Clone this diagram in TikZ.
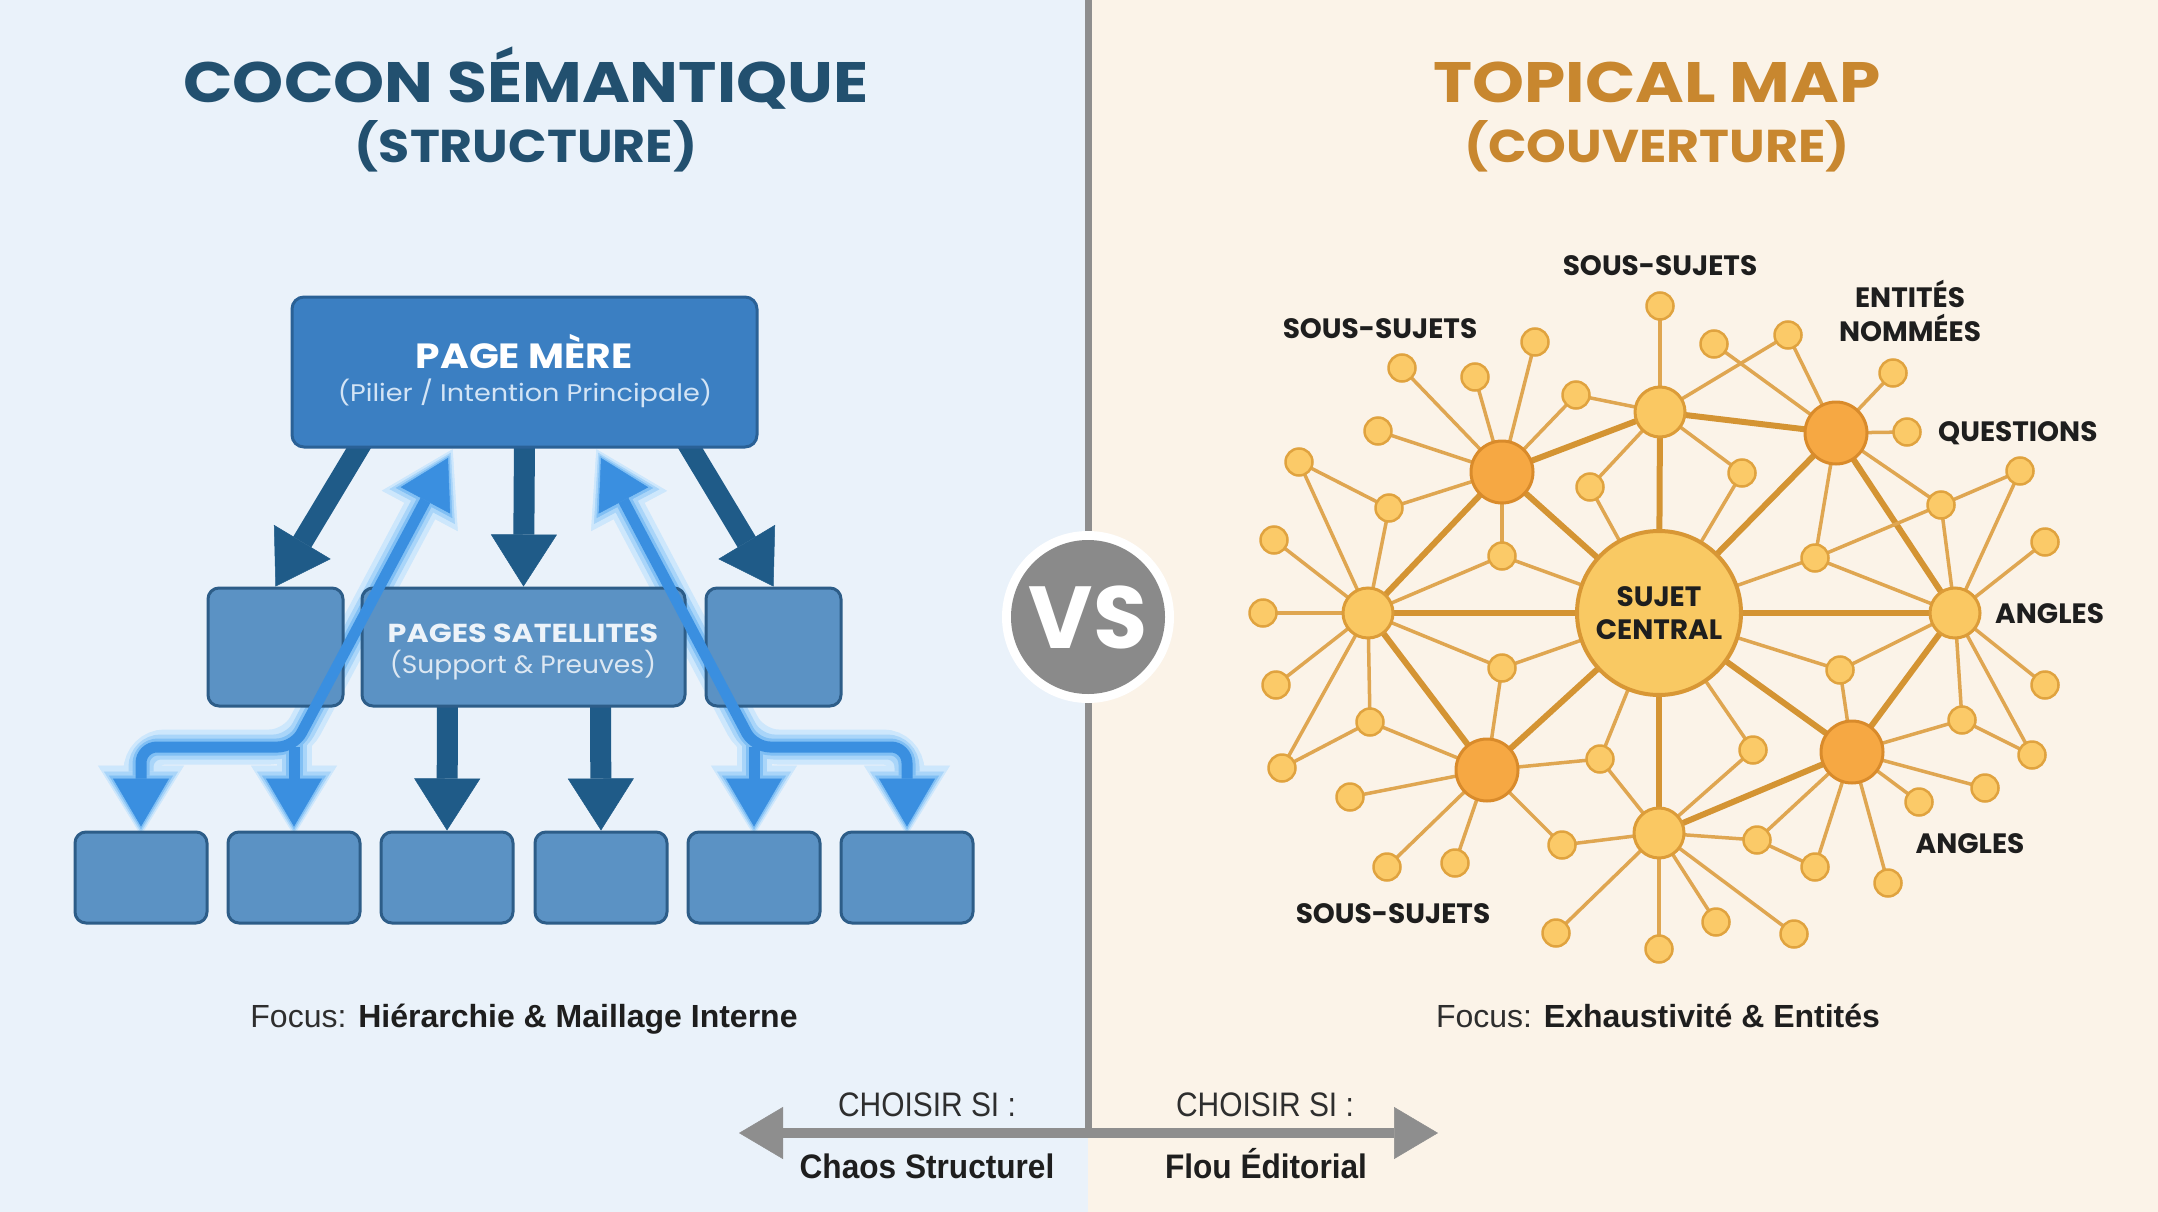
\documentclass[tikz,border=0pt]{standalone}
\usepackage{fontspec}
\setmainfont{Poppins}
\newfontfamily\lsans{Liberation Sans}
\usepackage{graphicx}
\usetikzlibrary{arrows.meta,calc}
\pgfdeclarelayer{back}
\pgfdeclarelayer{edges}
\pgfsetlayers{back,edges,main}
\definecolor{bgL}{HTML}{EAF2FA}
\definecolor{bgR}{HTML}{FBF3E8}
\definecolor{titleL}{HTML}{22506F}
\definecolor{titleR}{HTML}{C8872F}
\definecolor{pmfill}{HTML}{3B7FC2}
\definecolor{pmborder}{HTML}{2A6196}
\definecolor{boxfill}{HTML}{5B92C4}
\definecolor{boxborder}{HTML}{2D5D88}
\definecolor{darkarrow}{HTML}{1F5B88}
\definecolor{glowcore}{HTML}{3A8FE0}
\definecolor{glowA}{HTML}{CDE7FC}
\definecolor{glowB}{HTML}{A9D5F9}
\definecolor{glowC}{HTML}{80BFF4}
\definecolor{pmsub}{HTML}{D3E4F5}
\definecolor{sattxt}{HTML}{EDF3F9}
\definecolor{satsub}{HTML}{DCE7F2}
\definecolor{divgray}{HTML}{8E8E8E}
\definecolor{vsgray}{HTML}{8A8A8A}
\definecolor{edgethin}{HTML}{DFA651}
\definecolor{edgethick}{HTML}{D49433}
\definecolor{leaffill}{HTML}{FBCA68}
\definecolor{leafborder}{HTML}{E0A33F}
\definecolor{medfill}{HTML}{FAC862}
\definecolor{medborder}{HTML}{DC9C38}
\definecolor{hubfill}{HTML}{F6A843}
\definecolor{hubborder}{HTML}{D98B2B}
\definecolor{cenfill}{HTML}{F9C963}
\definecolor{cenborder}{HTML}{D89735}
\definecolor{txtdark}{HTML}{1E1E1E}
\definecolor{txtgray}{HTML}{2E2E2E}
\newcommand{\myfs}[1]{\fontsize{#1}{#1}\selectfont}
\begin{document}
\begin{tikzpicture}[x=1pt,y=-1pt,
  ttlA/.style={anchor=base,inner sep=0,font=\bfseries\myfs{57}},
  ttlB/.style={anchor=base,inner sep=0,font=\bfseries\myfs{46}},
  pmbox/.style={draw=pmborder,fill=pmfill,line width=3pt,rounded corners=12pt,minimum width=465pt,minimum height=150pt,inner sep=0},
  satbox/.style={draw=boxborder,fill=boxfill,line width=3pt,rounded corners=11pt,inner sep=0},
  darr/.style={draw=darkarrow,line width=21pt,-{Triangle[width=66pt,length=52pt,line width=0.5pt]}},
  gtip/.tip={Triangle[width=56pt,length=48pt,line width=0.5pt]},
  gtipC/.tip={Triangle[width=64pt,length=54pt,line width=0.5pt]},
  gtipB/.tip={Triangle[width=74pt,length=61pt,line width=0.5pt]},
  gtipA/.tip={Triangle[width=86pt,length=70pt,line width=0.5pt]},
  gcore/.style={draw=glowcore,line width=11pt,rounded corners=16pt,shorten >=4pt},
  ghaloC/.style={draw=glowC,line width=17pt,rounded corners=17pt,shorten >=1pt,shorten <=-3pt},
  ghaloB/.style={draw=glowB,line width=25pt,rounded corners=20pt,shorten >=-2pt,shorten <=-6pt},
  ghaloA/.style={draw=glowA,line width=35pt,rounded corners=24pt,shorten >=-5pt,shorten <=-10pt},
  leaf/.style={circle,draw=leafborder,fill=leaffill,line width=2.5pt,minimum size=27pt,inner sep=0},
  med/.style={circle,draw=medborder,fill=medfill,line width=3pt,minimum size=50pt,inner sep=0},
  hub/.style={circle,draw=hubborder,fill=hubfill,line width=3pt,minimum size=62pt,inner sep=0},
  cen/.style={circle,draw=cenborder,fill=cenfill,line width=4pt,minimum size=164pt,inner sep=0,align=center,font=\bfseries\fontsize{28}{33}\selectfont,text=txtdark},
  ethin/.style={draw=edgethin,line width=3.5pt},
  ethick/.style={draw=edgethick,line width=6pt},
  lbl/.style={anchor=base,inner sep=0,font=\bfseries\myfs{28},text=txtdark},
  foc/.style={anchor=base,inner sep=0,font=\lsans\myfs{32},text=txtgray},
  chs/.style={anchor=base,inner sep=0,font=\lsans\myfs{34},text=txtgray},
  chb/.style={anchor=base,inner sep=0,font=\lsans\bfseries\myfs{34},text=txtdark}
]
% backgrounds
\begin{pgfonlayer}{back}
\fill[bgL] (0,0) rectangle (1088,1212);
\fill[bgR] (1088,0) rectangle (2158,1212);
\end{pgfonlayer}
\useasboundingbox (0,0) rectangle (2158,1212);

% titles
\node[ttlA,text=titleL] (tL1) at (526,103) {\scalebox{1.14}[1]{COCON SÉMANTIQUE}};
\node[ttlB,text=titleL] (tL2) at (526,163) {\scalebox{1.10}[1]{(STRUCTURE)}};
\node[ttlA,text=titleR] (tR1) at (1657,103) {\scalebox{1.16}[1]{TOPICAL MAP}};
\node[ttlB,text=titleR] (tR2) at (1657,163) {\scalebox{1.10}[1]{(COUVERTURE)}};

% ===== left: hierarchy =====
\node[pmbox] (pm) at (524.5,372) {};
\node[satbox,minimum width=135pt,minimum height=118pt] (m1) at (275.5,647) {};
\node[satbox,minimum width=323pt,minimum height=118pt] (m2) at (523.5,647) {};
\node[satbox,minimum width=135pt,minimum height=118pt] (m3) at (773.5,647) {};
\foreach \i/\x in {1/141,2/294,3/447,4/601,5/754,6/907}
  \node[satbox,minimum width=132pt,minimum height=91pt] (b\i) at (\x,877.5) {};

\coordinate (J1) at (294,747);
\coordinate (J2) at (754,747);
\coordinate (gL) at (448,458);
\coordinate (gR) at (601,458);

\begin{pgfonlayer}{edges}
  % glow halos
  \foreach \hs/\tp in {ghaloA/gtipA,ghaloB/gtipB,ghaloC/gtipC}{
    \draw[\hs,{\tp}-{\tp}] (gL) -- (J1) -| (b1.north);
    \draw[\hs,-{\tp}] (J1) -- (b2.north);
    \draw[\hs,{\tp}-{\tp}] (gR) -- (J2) -| (b6.north);
    \draw[\hs,-{\tp}] (J2) -- (b5.north);
  }
  % dark arrows
  \draw[darr] ($(pm.south)+(-160,-10)$) -- (m1.north);
  \draw[darr] ($(pm.south)+(0,-10)$) -- (m2.north);
  \draw[darr] ($(pm.south)+(160,-10)$) -- (m3.north);
  \draw[darr] ($(m2.south)+(-76,-10)$) -- (b3.north);
  \draw[darr] ($(m2.south)+(77,-10)$) -- (b4.north);
\end{pgfonlayer}

% glow cores
\draw[gcore,{gtip}-{gtip}] (gL) -- (J1) -| (b1.north);
\draw[gcore,-{gtip}] (J1) -- (b2.north);
\draw[gcore,{gtip}-{gtip}] (gR) -- (J2) -| (b6.north);
\draw[gcore,-{gtip}] (J2) -- (b5.north);

% box texts
\node[anchor=base,inner sep=0,text=white,font=\bfseries\myfs{35}] (pmt) at (524,368) {\scalebox{1.12}[1]{PAGE MÈRE}};
\node[anchor=base,inner sep=0,text=pmsub,font=\myfs{24}] (pms) at (525,401) {\scalebox{1.13}[1]{(Pilier / Intention Principale)}};
\node[anchor=base,inner sep=0,text=sattxt,font=\bfseries\myfs{26}] (m2t) at (523,642) {\scalebox{1.16}[1]{PAGES SATELLITES}};
\node[anchor=base,inner sep=0,text=satsub,font=\myfs{25}] (m2s) at (523,673) {\scalebox{1.06}[1]{(Support \& Preuves)}};

\node[foc] (focL) at (524,1027) {Focus: {\bfseries\color{txtdark}Hiérarchie \& Maillage Interne}};
\node[foc] (focR) at (1658,1027) {Focus: {\bfseries\color{txtdark}Exhaustivité \& Entités}};

% ===== divider, VS, bottom arrow =====
\coordinate (dtop) at (1088,0);
\coordinate (dbot) at (1088,1133);
\coordinate (axL) at (739,1133);
\coordinate (axR) at (1438,1133);
\draw[divgray,line width=7pt] (dtop) -- (dbot);
\draw[divgray,line width=10pt,{Triangle[width=52pt,length=44pt,line width=0.5pt]}-{Triangle[width=52pt,length=44pt,line width=0.5pt]}] (axL) -- (axR);
\node[circle,fill=white,minimum size=172pt,inner sep=0] (vsring) at (1088,617) {};
\node[circle,fill=vsgray,minimum size=154pt,inner sep=0,text=white,font=\bfseries\myfs{88}] (vs) at (1088,617) {VS};

\node[chs] (chL) at (927,1116) {\scalebox{0.88}[1]{CHOISIR SI :}};
\node[chb] (csL) at (927,1178) {\scalebox{0.93}[1]{Chaos Structurel}};
\node[chs] (chR) at (1265,1116) {\scalebox{0.88}[1]{CHOISIR SI :}};
\node[chb] (csR) at (1266,1178) {\scalebox{0.93}[1]{Flou Éditorial}};

% ===== right: topical map =====
\node[cen] (C) at (1659,613) {SUJET\\CENTRAL};
\node[med] (MT) at (1660,412) {};
\node[med] (ML) at (1368,613) {};
\node[med] (MR) at (1955,613) {};
\node[med] (MB) at (1659,833) {};
\node[hub] (H1) at (1502,472) {};
\node[hub] (H2) at (1836,433) {};
\node[hub] (H3) at (1487,770) {};
\node[hub] (H4) at (1852,752) {};
\foreach \n/\x/\y in {
 T0/1660/306, za/1402/368, zb/1475/377, zc/1535/342, zd/1378/431, ze/1576/395, zf/1590/487,
 zg/1389/508, zh/1299/462, zi/1274/540, zj/1502/556, zk/1263/613,
 l1/1714/344, l2/1788/335, l3/1893/373, l4/1907/432, l5/1742/473, l6/2020/471, l7/1941/505,
 l8/1815/558, l9/2045/542,
 p1/1276/685, p2/1370/722, p3/1282/768, p4/1350/797, p5/1387/867, p6/1455/863, p7/1502/668,
 p8/1600/759, p9/1562/845, p10/1556/933, p11/1659/949,
 q1/1840/670, q2/1753/750, q3/1757/840, q4/1815/867, q5/1888/883, q6/1919/802, q7/1985/788,
 q8/1962/720, q9/2032/755, q10/2045/685, q11/1716/922, q12/1794/934}
  \node[leaf] (\n) at (\x,\y) {};

\begin{pgfonlayer}{edges}
\foreach \u/\v in {C/MT,C/ML,C/MR,C/MB,C/H1,C/H2,C/H3,C/H4,MT/H1,MT/H2,ML/H1,ML/H3,MR/H2,MR/H4,MB/H4}
  \draw[ethick] (\u.center) -- (\v.center);
\foreach \u/\v in {T0/MT,ze/MT,ze/H1,zf/MT,zf/C,za/H1,zb/H1,zc/H1,zd/H1,zg/H1,zg/ML,zh/zg,zh/ML,zi/ML,
  zj/H1,zj/C,zj/ML,zk/ML,
  l1/H2,l2/MT,l2/H2,l3/H2,l4/H2,l5/MT,l5/C,l6/l7,l6/MR,l7/H2,l7/MR,l7/l8,l8/C,l8/H2,l8/MR,l9/MR,
  p1/ML,p2/ML,p2/H3,p2/p3,p3/ML,p4/H3,p5/H3,p6/H3,p7/ML,p7/C,p7/H3,p8/H3,p8/C,p8/MB,p9/H3,p9/MB,
  p10/MB,p11/MB,
  q1/C,q1/MR,q1/H4,q2/C,q2/MB,q3/MB,q3/H4,q3/q4,q4/H4,q5/H4,q6/H4,q7/H4,q8/H4,q8/MR,q8/q9,q9/MR,
  q10/MR,q11/MB,q12/MB}
  \draw[ethin] (\u.center) -- (\v.center);
\end{pgfonlayer}

% labels
\node[lbl] (s1) at (1660,275) {SOUS-SUJETS};
\node[lbl] (s2) at (1380,338) {SOUS-SUJETS};
\node[lbl] (s3) at (1393,923) {SOUS-SUJETS};
\node[lbl] (en1) at (1910,307) {ENTITÉS};
\node[lbl] (en2) at (1910,341) {NOMMÉES};
\node[lbl,anchor=base west] (qu) at (1938,441) {QUESTIONS};
\node[lbl,anchor=base west] (an1) at (1995,623) {ANGLES};
\node[lbl] (an2) at (1970,853) {ANGLES};
\end{tikzpicture}
\end{document}
